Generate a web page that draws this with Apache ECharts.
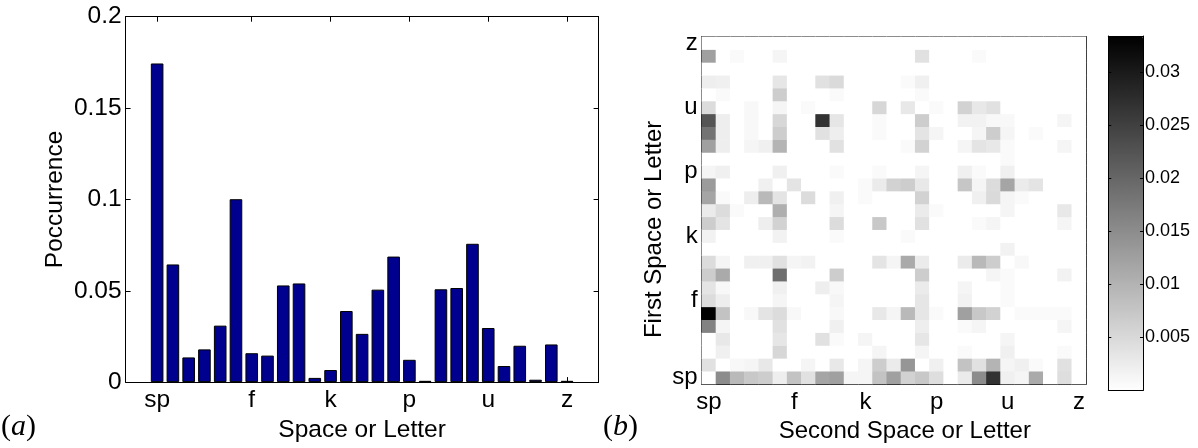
<!DOCTYPE html>
<html>
<head>
<meta charset="utf-8">
<script src="https://cdn.jsdelivr.net/npm/echarts@6/dist/echarts.min.js"></script>
<style>
html,body{margin:0;padding:0;background:#fff;}
#c{width:1198px;height:448px;}
</style>
</head>
<body>
<div id="c"></div>
<script>
// ---- data ----
const letters = ['sp','a','b','c','d','e','f','g','h','i','j','k','l','m','n','o','p','q','r','s','t','u','v','w','x','y','z'];
const tickLetters = ['sp','f','k','p','u','z'];
const pOccurrence = [0.1744,0.0644,0.0135,0.0179,0.0309,0.1001,0.0158,0.0145,0.0529,0.0540,0.0023,0.0066,0.0389,0.0264,0.0506,0.0687,0.0122,0.0007,0.0508,0.0515,0.0757,0.0296,0.0088,0.0199,0.0013,0.0206,0.0007];
const barTicks = [0,0.05,0.1,0.15,0.2];
const colorbarTicks = [0.005,0.01,0.015,0.02,0.025,0.03];
const colorMax = 0.0334;

// joint occurrence, first letter (row) x second letter (column, sp..z)
const rowSp = [0,0.0151,0.0092,0.0072,0.0065,0.0022,0.0079,0.0039,0.0118,0.0124,0.0013,0.0013,0.0079,0.0124,0.0059,0.0072,0.0043,0,0.0026,0.0151,0.0269,0.0020,0.0013,0.0111,0,0.0043,0];
const rowA  = [0.0039,0,0.0009,0.0013,0.0030,0,0,0.0013,0,0.0030,0,0.0013,0.0065,0.0026,0.0138,0,0.0020,0,0.0079,0.0039,0.0098,0.0013,0.0020,0.0007,0,0.0039,0];
const rowB  = [0,0.0020,0,0,0,0.0052,0,0,0,0,0,0,0.0013,0,0,0.0013,0,0,0.0007,0,0,0.0020,0,0,0,0.0007,0];
const rowC  = [0,0.0030,0,0,0,0.0033,0,0,0.0039,0.0007,0,0.0013,0,0,0,0.0033,0,0,0,0,0,0.0013,0,0,0,0,0];
const rowD  = [0.0164,0.0013,0,0,0,0.0039,0,0,0,0.0020,0,0,0,0,0,0.0022,0,0,0.0007,0.0013,0,0,0,0,0,0.0013,0];
const rowE  = [0.0334,0.0079,0,0.0009,0.0035,0.0046,0.0009,0,0,0.0009,0,0,0.0030,0.0013,0.0092,0.0033,0.0007,0,0.0124,0.0072,0.0059,0,0.0007,0.0007,0.0007,0.0007,0];
const rowF  = [0.0046,0.0022,0,0,0,0.0013,0,0,0,0.0013,0,0,0,0,0,0.0033,0,0,0.0017,0,0,0.0007,0,0,0,0,0];
const rowG  = [0.0035,0.0009,0,0,0,0.0020,0,0,0.0022,0.0009,0,0,0,0,0,0.0026,0,0,0.0013,0,0,0.0007,0,0,0,0,0];
const rowH  = [0.0065,0.0111,0,0,0,0.0190,0,0,0,0.0065,0,0,0,0,0,0.0065,0,0,0,0,0.0013,0.0007,0,0,0,0.0017,0];
const rowI  = [0.0046,0.0013,0,0.0020,0.0020,0.0039,0.0013,0.0017,0,0,0,0,0.0035,0.0013,0.0111,0.0026,0,0,0.0026,0.0092,0.0065,0,0.0009,0,0,0,0];
const rowJ  = [0,0,0,0,0,0,0,0,0,0,0,0,0,0,0,0,0,0,0,0,0,0.0017,0,0,0,0,0];
const rowK  = [0.0017,0,0,0,0,0.0017,0,0,0,0.0007,0,0,0,0,0.0007,0,0,0,0,0,0,0,0,0,0,0,0];
const rowL  = [0.0065,0.0035,0,0,0.0022,0.0059,0,0,0,0.0046,0,0,0.0072,0,0,0.0039,0,0,0,0.0007,0.0013,0,0,0,0,0.0013,0];
const rowM  = [0.0026,0.0046,0.0007,0,0,0.0105,0,0,0,0.0013,0,0,0,0,0,0.0026,0.0007,0,0,0,0,0.0013,0,0,0,0.0030,0];
const rowN  = [0.0118,0.0007,0,0.0022,0.0092,0.0035,0,0.0046,0,0.0020,0,0.0007,0,0,0,0.0059,0,0,0,0.0020,0.0048,0.0013,0.0007,0,0,0,0];
const rowO  = [0.0131,0,0,0,0.0020,0,0.0035,0,0,0,0,0.0007,0.0026,0.0059,0.0065,0.0030,0,0,0.0075,0.0013,0.0046,0.0118,0.0026,0.0035,0,0,0];
const rowP  = [0.0013,0.0020,0,0,0,0.0020,0,0,0,0.0007,0,0,0.0007,0,0,0.0013,0,0,0.0020,0.0007,0,0.0020,0,0,0,0,0];
const rowQ  = [0,0,0,0,0,0,0,0,0,0,0,0,0,0,0,0,0,0,0,0,0,0.0007,0,0,0,0,0];
const rowR  = [0.0124,0.0022,0,0.0013,0.0020,0.0098,0,0,0,0.0039,0,0,0,0,0.0007,0.0059,0,0,0.0013,0.0035,0.0030,0.0007,0,0,0,0.0013,0];
const rowS  = [0.0183,0.0022,0,0.0009,0,0.0065,0,0,0.0039,0.0022,0,0,0.0007,0,0,0.0035,0.0013,0,0,0.0013,0.0065,0.0013,0,0.0007,0,0,0];
const rowT  = [0.0223,0.0022,0,0.0009,0,0.0052,0,0,0.0269,0.0033,0,0,0.0007,0,0,0.0065,0,0,0.0017,0.0017,0.0009,0.0009,0,0,0,0.0013,0];
const rowU  = [0.0046,0,0,0.0009,0,0.0013,0,0.0007,0,0,0,0,0.0052,0,0.0030,0,0.0007,0,0.0059,0.0030,0.0039,0,0,0,0,0,0];
const rowV  = [0,0.0007,0,0,0,0.0065,0,0,0,0.0007,0,0,0,0,0,0.0007,0,0,0,0,0,0,0,0,0,0,0];
const rowW  = [0.0022,0.0020,0,0,0,0.0033,0,0,0.0039,0.0048,0,0,0,0,0.0007,0.0020,0,0,0,0,0,0,0,0,0,0,0];
const rowX  = [0,0,0,0,0,0,0,0,0,0,0,0,0,0,0,0,0,0,0,0,0,0,0,0,0,0,0];
const rowY  = [0.0124,0,0.0007,0,0,0.0013,0,0,0,0,0,0,0,0,0,0.0039,0,0,0,0.0007,0,0,0,0,0,0,0];
const rowZ  = [0,0,0,0,0,0,0,0,0,0,0,0,0,0,0,0,0,0,0,0,0,0,0,0,0,0,0];

const jointRows = [rowSp,rowA,rowB,rowC,rowD,rowE,rowF,rowG,rowH,rowI,rowJ,rowK,rowL,rowM,rowN,rowO,rowP,rowQ,rowR,rowS,rowT,rowU,rowV,rowW,rowX,rowY,rowZ];

// ---- build ----
const tickIdx = tickLetters.map(t => letters.indexOf(t));
const barData = pOccurrence.map((v, i) => [i, v]);
const heatData = [];
jointRows.forEach((row, y) => row.forEach((v, x) => heatData.push([x, y, v])));

const FONT = 'Liberation Sans, Arial, Helvetica, sans-serif';
const SERIF = 'Liberation Serif, DejaVu Serif, serif';
const FS = 24;
const line = {show: true, onZero: false, lineStyle: {color: '#000', width: 1}};
const tickIn = (len) => ({show: true, inside: true, length: len, lineStyle: {color: '#000', width: 1}});
const catTick = (len) => Object.assign(tickIn(len), {alignWithLabel: true, interval: (i) => tickIdx.includes(i)});
const lbl = (extra) => Object.assign({color: '#000', fontFamily: FONT, fontSize: FS}, extra);
const panelTag = (ch, left) => ({type: 'text', left: left, top: 412, style: {
  text: '{p|(}{i|' + ch + '}{p|)}',
  rich: {p: {fontFamily: SERIF, fontSize: 30, fill: '#000'},
         i: {fontFamily: SERIF, fontStyle: 'italic', fontSize: 30, fill: '#000'}}}});

const chart = echarts.init(document.getElementById('c'), null, {renderer: 'canvas', width: 1198, height: 448});

chart.setOption({
  animation: false,
  backgroundColor: '#fff',
  grid: [
    {left: 125.6, top: 16.7, width: 473, height: 371.6},
    {left: 701.7, top: 36.7, width: 384.3, height: 354},
    {left: 1108.3, top: 36, width: 34.7, height: 354.4}
  ],
  xAxis: [
    {type: 'value', gridIndex: 0, min: -2, max: 28, axisLine: line,
     axisTick: Object.assign(tickIn(5), {customValues: tickIdx}),
     axisLabel: lbl({customValues: tickIdx, formatter: (v) => letters[v], margin: 6, fontSize: 24.5}),
     splitLine: {show: false},
     name: 'Space or Letter', nameLocation: 'middle', nameGap: 29,
     nameTextStyle: lbl({fontSize: 24.5})},
    {type: 'value', gridIndex: 0, min: -2, max: 28, position: 'top', axisLine: line,
     axisTick: Object.assign(tickIn(5), {customValues: tickIdx}),
     axisLabel: {show: false}, splitLine: {show: false}},
    {type: 'category', gridIndex: 1, data: letters, axisLine: line,
     axisTick: catTick(4),
     axisLabel: lbl({interval: (i) => tickIdx.includes(i), margin: 6}),
     splitLine: {show: false},
     name: 'Second Space or Letter', nameLocation: 'middle', nameGap: 26,
     nameTextStyle: lbl({padding: [0, 0, 0, 22]})},
    {type: 'category', gridIndex: 1, data: letters, position: 'top', axisLine: line,
     axisTick: catTick(4), axisLabel: {show: false}, splitLine: {show: false}},
    {type: 'value', gridIndex: 2, min: 0, max: 1, z: 10, axisLine: line,
     axisTick: {show: false}, axisLabel: {show: false}, splitLine: {show: false}},
    {type: 'value', gridIndex: 2, min: 0, max: 1, z: 10, position: 'top', axisLine: line,
     axisTick: {show: false}, axisLabel: {show: false}, splitLine: {show: false}}
  ],
  yAxis: [
    {type: 'value', gridIndex: 0, min: barTicks[0], max: barTicks[barTicks.length - 1], interval: 0.05,
     axisLine: line, axisTick: tickIn(5), splitLine: {show: false},
     axisLabel: lbl({margin: 4, fontSize: 24.5}),
     name: 'Poccurrence', nameLocation: 'middle', nameGap: 58, nameTextStyle: lbl({fontSize: 24.5})},
    {type: 'value', gridIndex: 0, min: barTicks[0], max: barTicks[barTicks.length - 1], interval: 0.05,
     position: 'right', axisLine: line, axisTick: tickIn(5), splitLine: {show: false},
     axisLabel: {show: false}},
    {type: 'category', gridIndex: 1, data: letters, axisLine: line,
     axisTick: catTick(4),
     axisLabel: lbl({interval: (i) => tickIdx.includes(i), margin: 4}),
     splitLine: {show: false},
     name: 'First Space or Letter', nameLocation: 'middle', nameGap: 35,
     nameTextStyle: lbl({padding: [0, 38, 0, 0]})},
    {type: 'category', gridIndex: 1, data: letters, position: 'right', axisLine: line,
     axisTick: catTick(4), axisLabel: {show: false}, splitLine: {show: false}},
    {type: 'value', gridIndex: 2, min: 0, max: colorMax, interval: 0.005, position: 'right', z: 10,
     axisLine: line, axisTick: tickIn(3), splitLine: {show: false},
     axisLabel: lbl({fontSize: 18, margin: 2,
       formatter: (v) => {
         const t = colorbarTicks.find(c => Math.abs(c - v) < 1e-9);
         return t !== undefined ? String(t) : '';
       }})},
    {type: 'value', gridIndex: 2, min: 0, max: colorMax, interval: 0.005, position: 'left', z: 10,
     axisLine: line, axisTick: tickIn(3), splitLine: {show: false}, axisLabel: {show: false}}
  ],
  visualMap: {
    type: 'continuous', seriesIndex: 1, min: 0, max: colorMax,
    inRange: {color: ['#ffffff', '#000000']},
    left: 1108.3, top: 36, itemWidth: 34.7, itemHeight: 354.4, padding: 0,
    calculable: false, hoverLink: false, text: null, showLabel: false, z: 1
  },
  graphic: [panelTag('a', 1), panelTag('b', 603)],
  series: [
    {type: 'bar', xAxisIndex: 0, yAxisIndex: 0, data: barData, barWidth: 12.6,
     itemStyle: {color: '#00008f', borderColor: '#000', borderWidth: 1}, silent: true},
    {type: 'heatmap', xAxisIndex: 2, yAxisIndex: 2, data: heatData,
     itemStyle: {borderWidth: 0}, silent: true, progressive: 0}
  ]
});
</script>
</body>
</html>
